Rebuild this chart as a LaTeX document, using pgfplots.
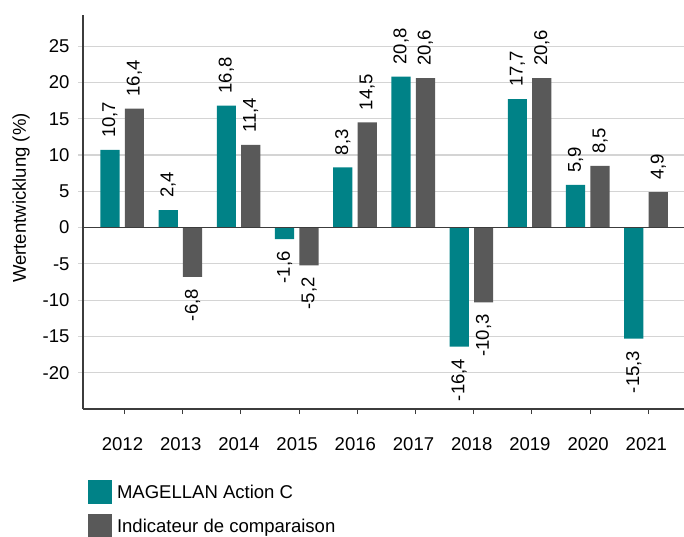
\documentclass[border=0pt]{standalone}
\usepackage{fontspec}
\setmainfont{Liberation Sans}
\usepackage{pgfplots}
\pgfplotsset{compat=1.18}
\definecolor{tealbar}{RGB}{0,130,135}
\definecolor{greybar}{RGB}{89,89,89}
\definecolor{gridc}{RGB}{212,212,212}
\definecolor{axisc}{RGB}{60,60,60}
\begin{document}
\begin{tikzpicture}
\useasboundingbox (0,0) rectangle (684bp,537bp);
\begin{axis}[
  at={(83bp,128bp)}, anchor=south west,
  scale only axis, width=601bp, height=394bp,
  font=\fontsize{18.6}{22}\selectfont,
  /pgf/number format/assume math mode=true,
  xmin=-0.713, xmax=9.613, ymin=-25, ymax=29.3,
  axis x line=bottom, axis y line=left,
  axis line style={-, draw=axisc, line width=1.2bp},
  xtick={0,...,9},
  xticklabels={2012,2013,2014,2015,2016,2017,2018,2019,2020,2021},
  ytick={-20,-15,...,25},
  tick align=outside, major tick length=5bp,
  x tick style={draw=axisc, line width=1bp},
  y tick style={draw=gridc, line width=1.2bp},
  xticklabel style={anchor=base, yshift=-36bp, xshift=-2bp},
  yticklabel style={anchor=east, xshift=-5bp},
  ymajorgrids, major grid style={draw=gridc, line width=1.2bp},
  ylabel={Wertentwicklung (\%)},
  ylabel style={at={(axis description cs:-0.103,0.5355)}, anchor=center},
  ybar, bar width=0.33,
  legend style={at={(rel axis cs:0,0)}, anchor=north west, xshift=5bp, yshift=-71bp,
    draw=none, fill=none, inner sep=0pt, outer sep=0pt, row sep=10bp,
    nodes={inner sep=0pt, anchor=base west},
    font=\fontsize{18.6}{22}\selectfont},
  legend cell align=left,
  legend image code/.code={\fill[#1, draw=none] (0bp,-5.5bp) rectangle (24bp,18.5bp); \path (29bp,0bp);},
  nodes near coords,
  nodes near coords style={/pgf/number format/fixed, /pgf/number format/fixed zerofill, /pgf/number format/precision=1, /pgf/number format/use comma, /pgf/number format/assume math mode=true},
]
\addplot[fill=tealbar, draw=none, bar shift=-0.25,
  every node near coord/.append style={rotate=90, anchor=west, inner xsep=12bp, inner ysep=0pt, text=black}]
  coordinates {(0,10.7) (1,2.4) (2,16.8) (4,8.3) (5,20.8) (7,17.7) (8,5.9)};
\addplot[fill=greybar, draw=none, bar shift=0.17,
  every node near coord/.append style={rotate=90, anchor=west, inner xsep=12bp, inner ysep=0pt, text=black}]
  coordinates {(0,16.4) (2,11.4) (4,14.5) (5,20.6) (7,20.6) (8,8.5) (9,4.9)};
\addplot[fill=tealbar, draw=none, bar shift=-0.25, forget plot,
  every node near coord/.append style={rotate=90, anchor=east, inner xsep=12bp, inner ysep=0pt, text=black}]
  coordinates {(3,-1.6) (6,-16.4) (9,-15.3)};
\addplot[fill=greybar, draw=none, bar shift=0.17, forget plot,
  every node near coord/.append style={rotate=90, anchor=east, inner xsep=12bp, inner ysep=0pt, text=black}]
  coordinates {(1,-6.8) (3,-5.2) (6,-10.3)};
\draw[axisc, line width=1.2bp] (axis cs:-0.713,0) -- (axis cs:9.613,0);
\legend{MAGELLAN Action C, Indicateur de comparaison}
\end{axis}
\end{tikzpicture}
\end{document}
